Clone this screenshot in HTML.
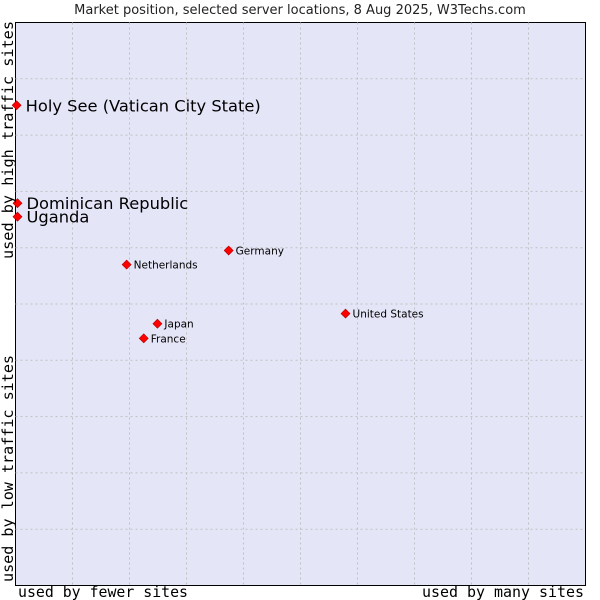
<!DOCTYPE html>
<html><head><meta charset="utf-8"><style>
body{margin:0;background:#fff;}
svg{display:block;font-family:"DejaVu Sans","Liberation Sans",sans-serif;}
</style></head><body>
<svg id="chart" width="600" height="600" xmlns="http://www.w3.org/2000/svg">
<text x="300" y="14" text-anchor="middle" font-size="13" fill="#222">Market position, selected server locations, 8 Aug 2025, W3Techs.com</text>
<rect x="15.5" y="22.5" width="570" height="563" fill="#e4e6f8" stroke="#000" stroke-width="1"/>
<g id="grid"></g>
<g id="points"></g>
<text x="18" y="597" textLength="170" lengthAdjust="spacingAndGlyphs" font-family="'DejaVu Sans Mono','Liberation Mono',monospace" font-size="15" fill="#000">used by fewer sites</text>
<text x="422" y="597" textLength="162" lengthAdjust="spacingAndGlyphs" font-family="'DejaVu Sans Mono','Liberation Mono',monospace" font-size="15" fill="#000">used by many sites</text>
<text transform="translate(13,582) rotate(-90)" textLength="227" lengthAdjust="spacingAndGlyphs" font-family="'DejaVu Sans Mono','Liberation Mono',monospace" font-size="15" fill="#000">used by low traffic sites</text>
<text transform="translate(13,259) rotate(-90)" textLength="238" lengthAdjust="spacingAndGlyphs" font-family="'DejaVu Sans Mono','Liberation Mono',monospace" font-size="15" fill="#000">used by high traffic sites</text>
</svg>
<script>
const names = ["Holy See (Vatican City State)","Dominican Republic","Uganda","Germany","Netherlands","United States","Japan","France"];
const xValues = [0.2,0.35,0.35,37.4,19.5,57.9,24.9,22.5];
const yValues = [85.3,67.9,65.5,59.5,57.0,48.3,46.5,43.9];
const bigLabel = [true,true,true,false,false,false,false,false];
const NS="http://www.w3.org/2000/svg";
const L=15.5,T=22.5,W=570,H=563;
function sx(v){return L+v/100*W;}
function sy(v){return T+H-v/100*H;}
const grid=document.getElementById('grid');
for(let i=1;i<10;i++){
  const v=document.createElementNS(NS,'line');
  
  
  const x=sx(i*10);
  v.setAttribute('x1',x);v.setAttribute('x2',x);v.setAttribute('y1',T);v.setAttribute('y2',T+H);
  v.setAttribute('stroke','#c0c0c0');v.setAttribute('stroke-dasharray','2,3');
  grid.appendChild(v);
  const h=document.createElementNS(NS,'line');
  
  
  const y=sy(i*10);
  h.setAttribute('x1',L);h.setAttribute('x2',L+W);h.setAttribute('y1',y);h.setAttribute('y2',y);
  h.setAttribute('stroke','#c0c0c0');h.setAttribute('stroke-dasharray','2,3');
  grid.appendChild(h);
}
const pts=document.getElementById('points');
names.forEach((n,i)=>{
  const x=sx(xValues[i]),y=sy(yValues[i]);
  const d=document.createElementNS(NS,'path');
  
  
  d.setAttribute('d',`M${x-4.5},${y} L${x},${y-4.5} L${x+4.5},${y} L${x},${y+4.5} Z`);
  d.setAttribute('fill','#ff0000');d.setAttribute('stroke','#b00000');d.setAttribute('stroke-width','0.6');
  pts.appendChild(d);
  const t=document.createElementNS(NS,'text');
  
  
  t.setAttribute('x',x+(bigLabel[i]?9:7));
  t.setAttribute('y',y+(bigLabel[i]?6:4));
  t.setAttribute('font-size',bigLabel[i]?'16.3':'10.5');
  t.setAttribute('fill','#000');
  t.textContent=n;
  pts.appendChild(t);
});
</script>
</body></html>
